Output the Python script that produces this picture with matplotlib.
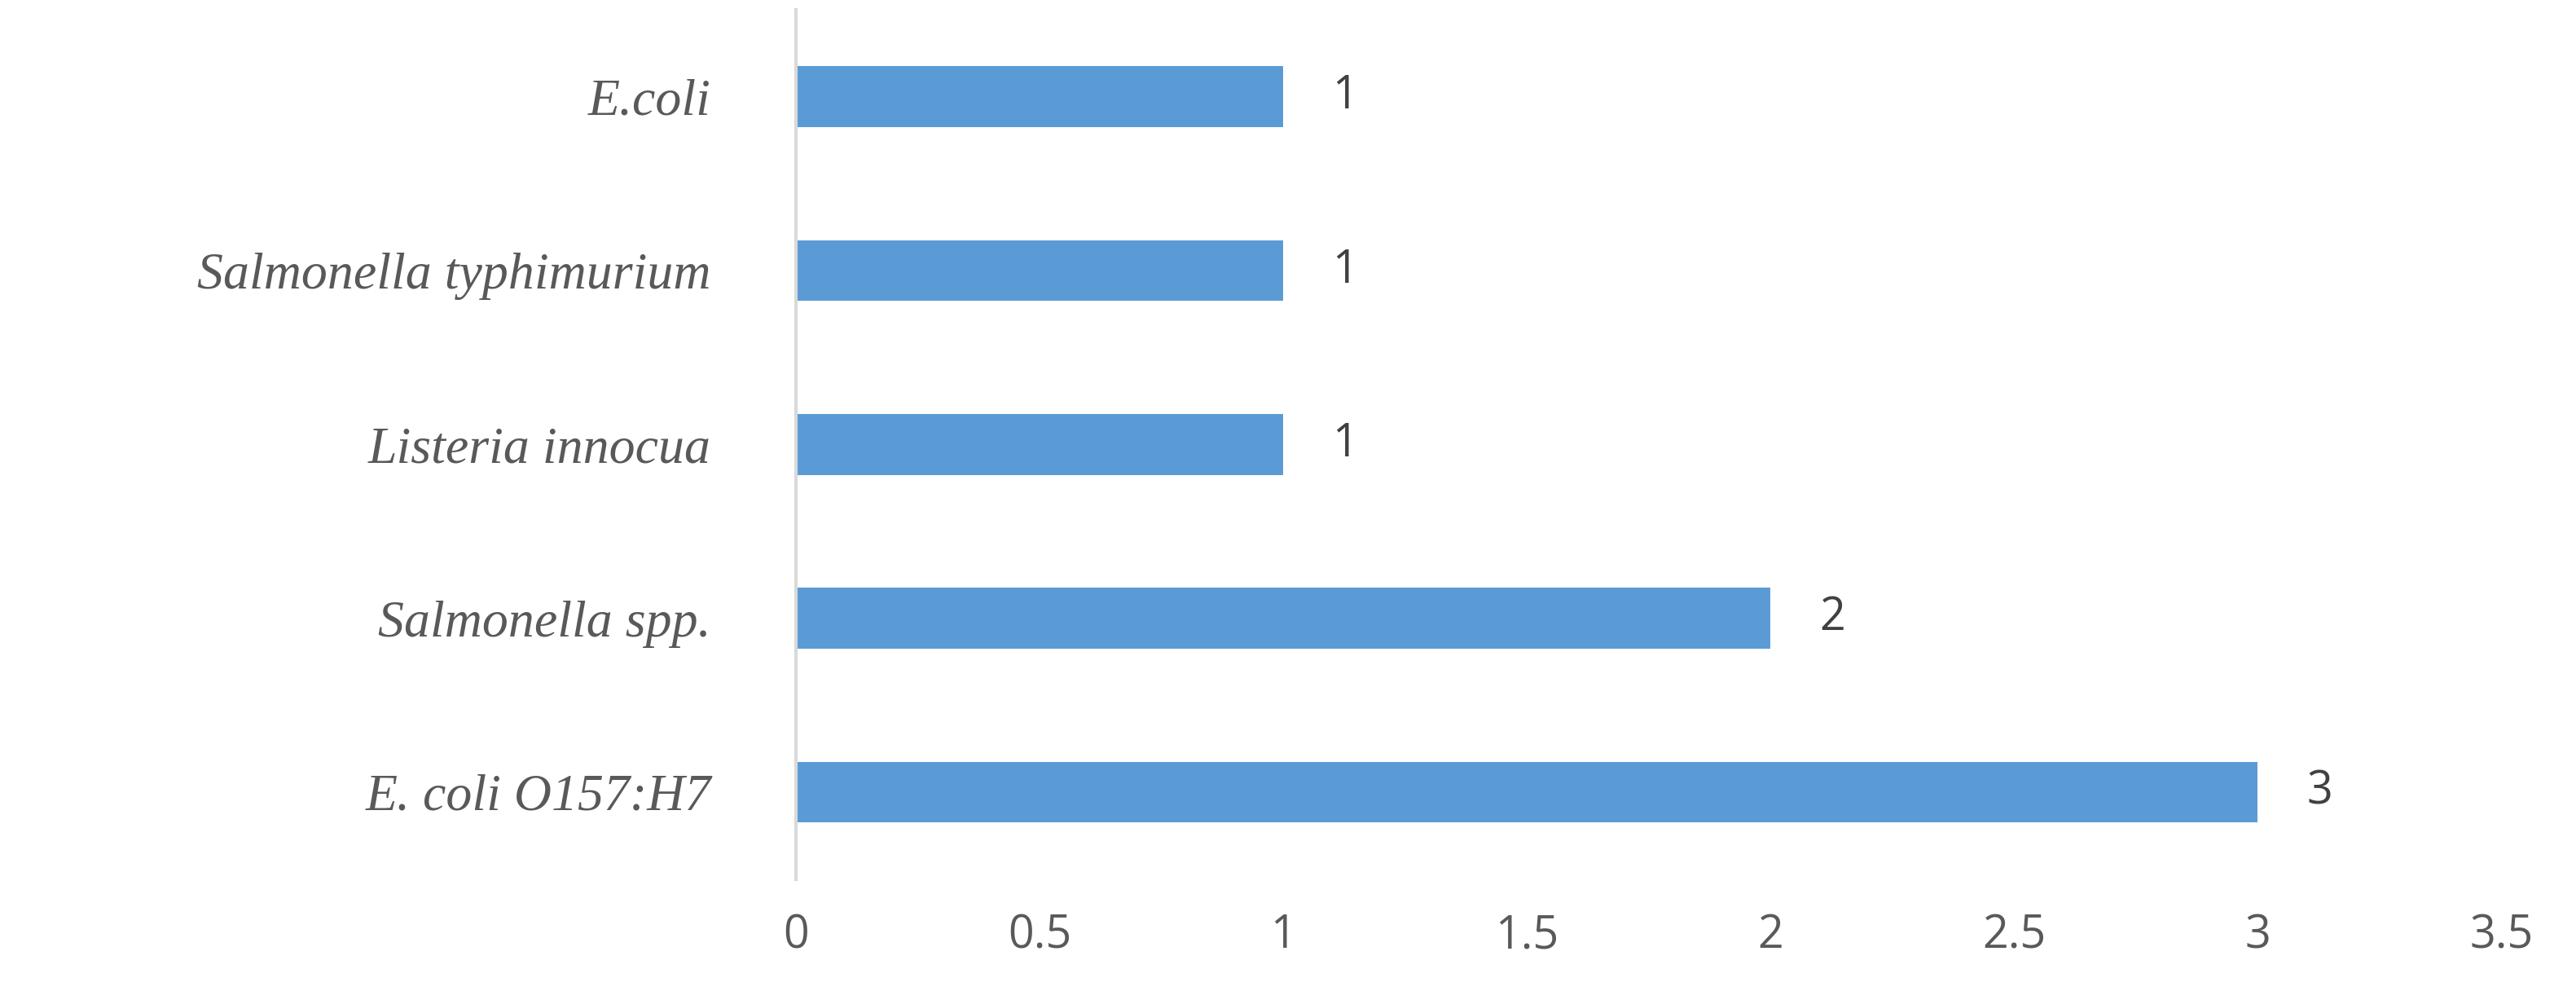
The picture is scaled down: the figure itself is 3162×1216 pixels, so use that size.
import matplotlib
matplotlib.use("Agg")
import matplotlib.pyplot as plt

categories = ["E. coli O157:H7", "Salmonella spp.", "Listeria innocua", "Salmonella typhimurium", "E.coli"]
values = [3, 2, 1, 1, 1]
xticks = [0, 0.5, 1, 1.5, 2, 2.5, 3, 3.5]
xticklabels = ["0", "0.5", "1", "1.5", "2", "2.5", "3", "3.5"]

fig = plt.figure(figsize=(31.62, 12.16), dpi=100)
ax = fig.add_axes([0.309, 0.113, 0.662, 0.877])
y = list(range(len(categories)))
ax.barh(y, values, height=0.35, color="#5B9BD5")
for yi, v in zip(y, values):
    ax.text(v + 0.1, yi, str(v), va="center", ha="left", fontsize=40,
            color="#404040", family="Open Sans")
ax.set_xlim(0, 3.5)
ax.set_ylim(-0.5, 4.5)
ax.set_xticks(xticks)
ax.set_xticklabels(xticklabels, fontsize=40, color="#595959", family="Open Sans")
ax.set_yticks(y)
ax.set_yticklabels(categories, fontsize=46, color="#595959",
                   family="Liberation Serif", style="italic")
ax.tick_params(length=0, axis="y", pad=75)
ax.tick_params(length=0, axis="x", pad=30)
for s in ["top", "right", "bottom"]:
    ax.spines[s].set_visible(False)
ax.spines["left"].set_color("#D9D9D9")
ax.spines["left"].set_linewidth(3)
fig.savefig("out.png", dpi=100)
